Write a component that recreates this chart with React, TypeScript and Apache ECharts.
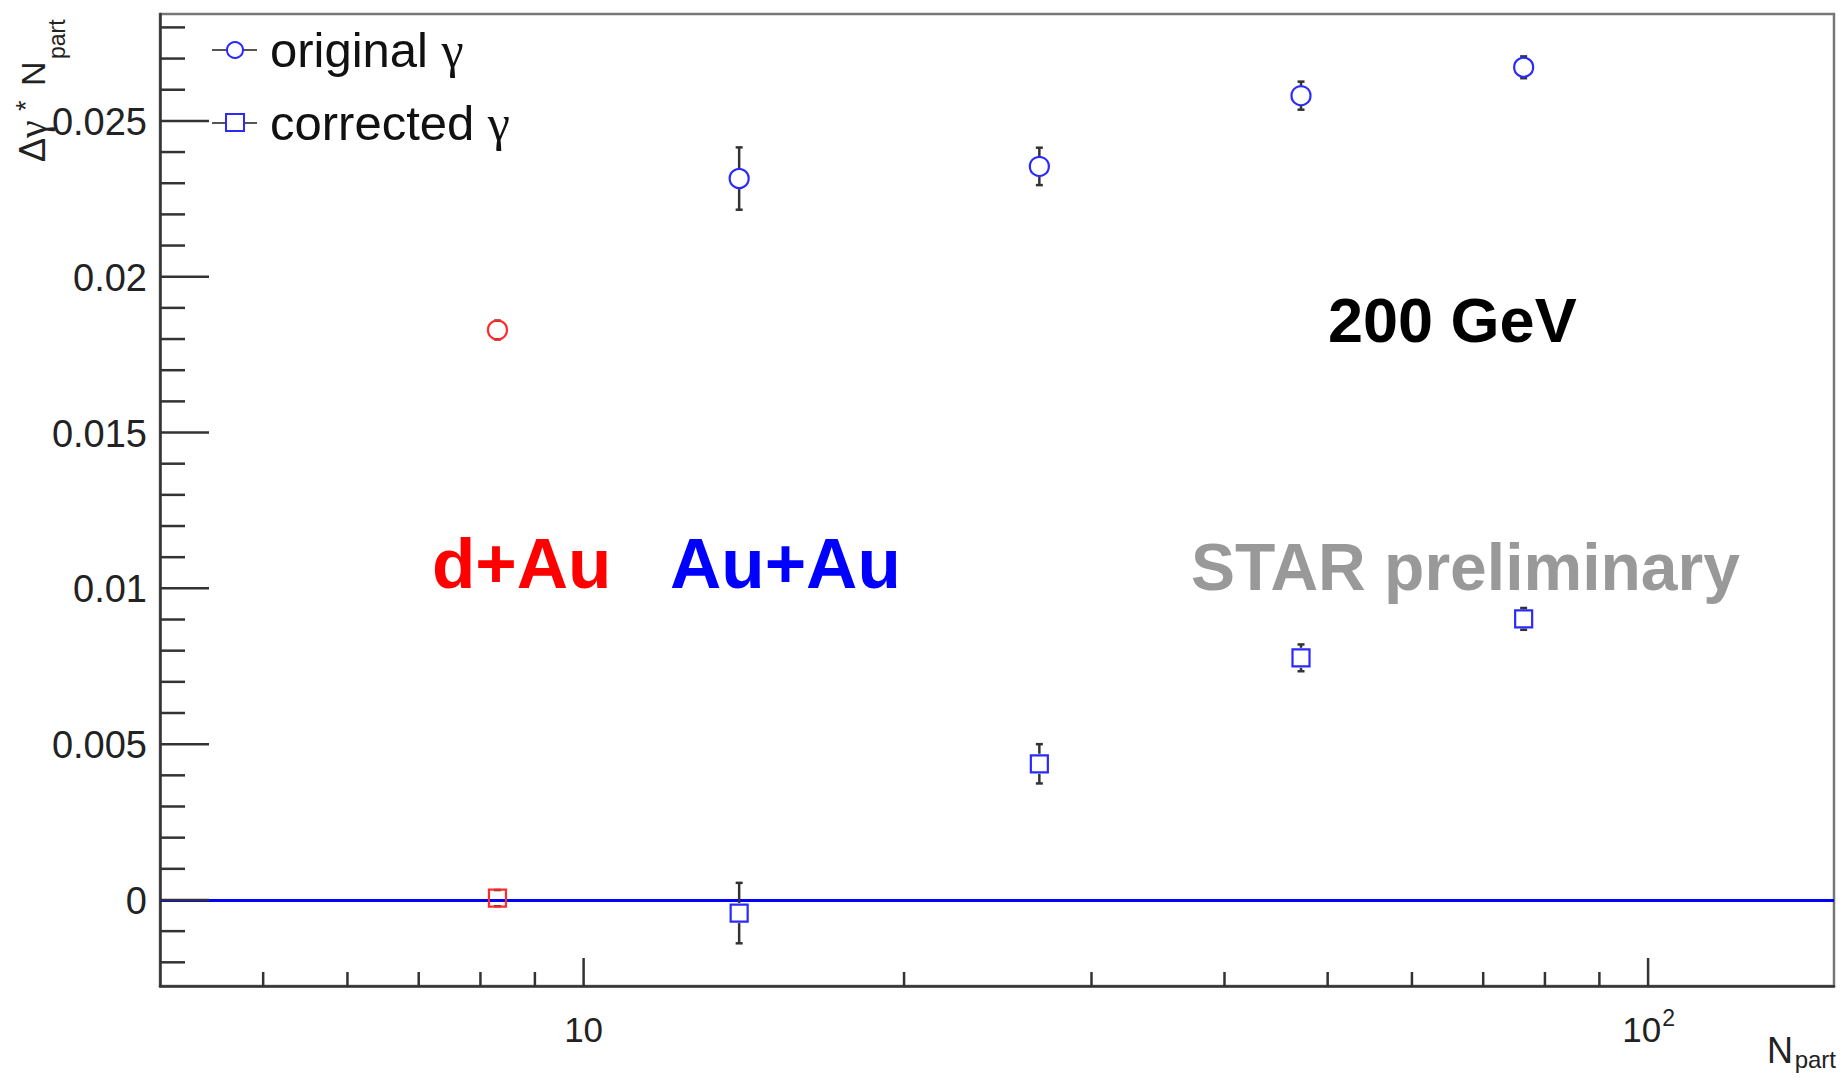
import React, { useEffect, useRef } from "react";
import * as echarts from "echarts";

// ---------------- data ----------------
const npartAuAu = [14.0, 26.8, 47.2, 76.4];
const originalAuAu = [0.02315, 0.02354, 0.02581, 0.02672];
const originalAuAuErr = [0.001, 0.0006, 0.00045, 0.00035];
const correctedAuAu = [-0.00042, 0.00437, 0.00777, 0.00902];
const correctedAuAuErr = [0.00097, 0.00063, 0.00043, 0.00035];

const npartDAu = [8.3];
const originalDAu = [0.01829];
const originalDAuErr = [0.0003];
const correctedDAu = [0.00006];
const correctedDAuErr = [0.00026];

// axis ranges and ticks
const xMin = 4;
const xMax = 149.5;
const yMin = -0.00276;
const yMax = 0.02843;
const xMajorTicks = [10, 100];
const xMajorLabelBase = ["10", "10"];
const xMajorLabelExp = ["", "2"];
const xMinorTicks = [5, 6, 7, 8, 9, 20, 30, 40, 50, 60, 70, 80, 90];
const yMajorTicks = [0, 0.005, 0.01, 0.015, 0.02, 0.025];
const yMajorLabels = ["0", "0.005", "0.01", "0.015", "0.02", "0.025"];
const yMinorTicks = [
  -0.002, -0.001, 0.001, 0.002, 0.003, 0.004, 0.006, 0.007, 0.008, 0.009,
  0.011, 0.012, 0.013, 0.014, 0.016, 0.017, 0.018, 0.019, 0.021, 0.022,
  0.023, 0.024, 0.026, 0.027, 0.028,
];

const FONT = "'Liberation Sans', Arial, Helvetica, sans-serif";
const SERIF = "'Liberation Serif', 'DejaVu Serif', serif";
const BLUE = "#2a2aff";
const RED = "#ff2a2a";
const TICK = "#333333";

export default function App() {
  const ref = useRef<HTMLDivElement>(null);

  useEffect(() => {
    document.body.style.margin = "0";
    document.body.style.overflow = "hidden";
    const chart = echarts.init(ref.current as HTMLDivElement, null, { renderer: "svg" });

    const errData = [
      ...npartAuAu.map((x, i) => [x, originalAuAu[i], originalAuAuErr[i]]),
      ...npartAuAu.map((x, i) => [x, correctedAuAu[i], correctedAuAuErr[i]]),
      ...npartDAu.map((x, i) => [x, originalDAu[i], originalDAuErr[i]]),
      ...npartDAu.map((x, i) => [x, correctedDAu[i], correctedDAuErr[i]]),
    ];

    const xTickData = [
      ...xMajorTicks.map((v, i) => [v, yMin, 1, i]),
      ...xMinorTicks.map((v) => [v, yMin, 0, -1]),
    ];
    const yTickData = [
      ...yMajorTicks.map((v, i) => [xMin, v, 1, i]),
      ...yMinorTicks.map((v) => [xMin, v, 0, -1]),
    ];

    const legendRich = {
      g: { fontFamily: SERIF, fontSize: 50, fill: "#111" },
    };

    const option: any = {
      animation: false,
      backgroundColor: "#ffffff",
      textStyle: { fontFamily: FONT },
      grid: {
        left: 160,
        top: 14,
        right: 9,
        bottom: 94,
        show: true,
        borderColor: "#777777",
        borderWidth: 2.5,
        backgroundColor: "rgba(0,0,0,0)",
      },
      xAxis: {
        type: "log",
        logBase: 10,
        min: xMin,
        max: xMax,
        axisLine: { show: true, onZero: false, lineStyle: { color: "#333", width: 2.5 } },
        axisTick: { show: false },
        axisLabel: { show: false },
        splitLine: { show: false },
        minorTick: { show: false },
        minorSplitLine: { show: false },
      },
      yAxis: {
        type: "value",
        min: yMin,
        max: yMax,
        axisLine: { show: true, onZero: false, lineStyle: { color: "#333", width: 2.5 } },
        axisTick: { show: false },
        axisLabel: { show: false },
        splitLine: { show: false },
      },
      series: [
        {
          name: "errors",
          type: "custom",
          clip: false,
          z: 3,
          data: errData,
          renderItem: (params: any, api: any) => {
            const x = api.value(0);
            const y = api.value(1);
            const e = api.value(2);
            const c = api.coord([x, y]);
            const t = api.coord([x, y + e]);
            const b = api.coord([x, y - e]);
            const r = 10;
            const st = { stroke: TICK, lineWidth: 2.5 };
            const ch: any[] = [];
            if (t[1] < c[1] - r)
              ch.push({ type: "line", shape: { x1: c[0], y1: t[1], x2: c[0], y2: c[1] - r }, style: st });
            if (b[1] > c[1] + r)
              ch.push({ type: "line", shape: { x1: c[0], y1: c[1] + r, x2: c[0], y2: b[1] }, style: st });
            ch.push({ type: "line", shape: { x1: c[0] - 3.5, y1: t[1], x2: c[0] + 3.5, y2: t[1] }, style: st });
            ch.push({ type: "line", shape: { x1: c[0] - 3.5, y1: b[1], x2: c[0] + 3.5, y2: b[1] }, style: st });
            return { type: "group", children: ch };
          },
        },
        {
          name: "original γ",
          type: "scatter",
          z: 5,
          symbol: "circle",
          symbolSize: 19,
          itemStyle: { color: "rgba(0,0,0,0)", borderColor: BLUE, borderWidth: 2.2, opacity: 1 },
          data: npartAuAu.map((x, i) => [x, originalAuAu[i]]),
        },
        {
          name: "corrected γ",
          type: "scatter",
          z: 5,
          symbol: "rect",
          symbolSize: 17,
          itemStyle: { color: "rgba(0,0,0,0)", borderColor: BLUE, borderWidth: 2.2, opacity: 1 },
          data: npartAuAu.map((x, i) => [x, correctedAuAu[i]]),
          markLine: {
            silent: true,
            symbol: ["none", "none"],
            label: { show: false },
            lineStyle: { color: "#0000ff", width: 3, type: "solid" },
            data: [{ yAxis: 0 }],
            z: 2,
          },
        },
        {
          name: "original γ d+Au",
          type: "scatter",
          z: 5,
          symbol: "circle",
          symbolSize: 19,
          itemStyle: { color: "rgba(0,0,0,0)", borderColor: RED, borderWidth: 2.2, opacity: 1 },
          data: npartDAu.map((x, i) => [x, originalDAu[i]]),
        },
        {
          name: "corrected γ d+Au",
          type: "scatter",
          z: 5,
          symbol: "rect",
          symbolSize: 17,
          itemStyle: { color: "rgba(0,0,0,0)", borderColor: RED, borderWidth: 2.2, opacity: 1 },
          data: npartDAu.map((x, i) => [x, correctedDAu[i]]),
        },
        {
          name: "xticks",
          type: "custom",
          clip: false,
          z: 6,
          silent: true,
          data: xTickData,
          renderItem: (params: any, api: any) => {
            const v = api.value(0);
            const major = api.value(2) === 1;
            const idx = api.value(3);
            const p = api.coord([v, yMin]);
            const len = major ? 28 : 14;
            const ch: any[] = [
              {
                type: "line",
                shape: { x1: p[0], y1: p[1], x2: p[0], y2: p[1] - len },
                style: { stroke: TICK, lineWidth: 2.5 },
              },
            ];
            if (major) {
              const base = xMajorLabelBase[idx];
              const exp = xMajorLabelExp[idx];
              if (exp) {
                const bw = base.length * 0.556 * 35;
                const ew = exp.length * 0.556 * 23;
                const x0 = p[0] - (bw + ew) / 2;
                ch.push({
                  type: "text",
                  x: x0,
                  y: p[1] + 43,
                  style: { text: base, fontSize: 35, fontFamily: FONT, fill: "#222", align: "left", verticalAlign: "middle" },
                });
                ch.push({
                  type: "text",
                  x: x0 + bw + 1,
                  y: p[1] + 32,
                  style: { text: exp, fontSize: 23, fontFamily: FONT, fill: "#222", align: "left", verticalAlign: "middle" },
                });
              } else {
                ch.push({
                  type: "text",
                  x: p[0],
                  y: p[1] + 43,
                  style: { text: base, fontSize: 35, fontFamily: FONT, fill: "#222", align: "center", verticalAlign: "middle" },
                });
              }
            }
            return { type: "group", children: ch };
          },
        },
        {
          name: "yticks",
          type: "custom",
          clip: false,
          z: 6,
          silent: true,
          data: yTickData,
          renderItem: (params: any, api: any) => {
            const v = api.value(1);
            const major = api.value(2) === 1;
            const idx = api.value(3);
            const p = api.coord([xMin, v]);
            const len = major ? 49 : 25;
            const ch: any[] = [
              {
                type: "line",
                shape: { x1: p[0], y1: p[1], x2: p[0] + len, y2: p[1] },
                style: { stroke: TICK, lineWidth: 2.5 },
              },
            ];
            if (major) {
              ch.push({
                type: "text",
                x: p[0] - 13,
                y: p[1] + 1,
                style: { text: yMajorLabels[idx], fontSize: 38, fontFamily: FONT, fill: "#222", align: "right", verticalAlign: "middle" },
              });
            }
            return { type: "group", children: ch };
          },
        },
      ],
      graphic: [
        // legend
        { type: "line", shape: { x1: 212, y1: 50, x2: 257, y2: 50 }, style: { stroke: "#555", lineWidth: 2 }, z: 20 },
        { type: "circle", shape: { cx: 235, cy: 50, r: 8 }, style: { fill: "#fff", stroke: BLUE, lineWidth: 2 }, z: 21 },
        {
          type: "text", x: 270, y: 50, z: 21,
          style: { text: "original {g|γ}", rich: legendRich, fontSize: 49, fontFamily: FONT, fill: "#111", align: "left", verticalAlign: "middle" },
        },
        { type: "line", shape: { x1: 212, y1: 123, x2: 257, y2: 123 }, style: { stroke: "#555", lineWidth: 2 }, z: 20 },
        { type: "rect", shape: { x: 226, y: 114, width: 18, height: 17 }, style: { fill: "#fff", stroke: BLUE, lineWidth: 2 }, z: 21 },
        {
          type: "text", x: 270, y: 123, z: 21,
          style: { text: "corrected {g|γ}", rich: legendRich, fontSize: 49, fontFamily: FONT, fill: "#111", align: "left", verticalAlign: "middle" },
        },
        // annotations
        {
          type: "text", x: 1328, y: 320, z: 20,
          style: { text: "200 GeV", fontSize: 63, fontWeight: "bold", fontFamily: FONT, fill: "#000", align: "left", verticalAlign: "middle" },
        },
        {
          type: "text", x: 432, y: 563, z: 20,
          style: { text: "d+Au", fontSize: 71, fontWeight: "bold", fontFamily: FONT, fill: "#ff0000", align: "left", verticalAlign: "middle" },
        },
        {
          type: "text", x: 670, y: 563, z: 20,
          style: { text: "Au+Au", fontSize: 71, fontWeight: "bold", fontFamily: FONT, fill: "#0000ff", align: "left", verticalAlign: "middle" },
        },
        {
          type: "text", x: 1191, y: 567, z: 20,
          style: { text: "STAR preliminary", fontSize: 66, fontWeight: "bold", fontFamily: FONT, fill: "#999999", align: "left", verticalAlign: "middle" },
        },
        // y-axis title (rotated)
        {
          type: "group",
          x: 45,
          y: 162,
          rotation: Math.PI / 2,
          z: 20,
          children: [
            { type: "text", x: 0, y: -13, style: { text: "Δ", fontSize: 36, fontFamily: FONT, fill: "#222", align: "left", verticalAlign: "middle" } },
            { type: "text", x: 24, y: -13, style: { text: "γ", fontSize: 40, fontFamily: SERIF, fill: "#222", align: "left", verticalAlign: "middle" } },
            { type: "text", x: 51, y: -19, style: { text: "*", fontSize: 27, fontFamily: FONT, fill: "#222", align: "left", verticalAlign: "middle" } },
            { type: "text", x: 76, y: -12, style: { text: "N", fontSize: 34, fontFamily: FONT, fill: "#222", align: "left", verticalAlign: "middle" } },
            { type: "text", x: 103, y: 12, style: { text: "part", fontSize: 23, fontFamily: FONT, fill: "#222", align: "left", verticalAlign: "middle" } },
          ],
        },
        // x-axis title
        {
          type: "text", x: 1793, y: 1050, z: 20,
          style: { text: "N", fontSize: 36, fontFamily: FONT, fill: "#222", align: "right", verticalAlign: "middle" },
        },
        {
          type: "text", x: 1836, y: 1059, z: 20,
          style: { text: "part", fontSize: 24, fontFamily: FONT, fill: "#222", align: "right", verticalAlign: "middle" },
        },
      ],
    };

    chart.setOption(option);
    return () => chart.dispose();
  }, []);

  return <div ref={ref} style={{ width: 1843, height: 1080, background: "#ffffff" }} />;
}
